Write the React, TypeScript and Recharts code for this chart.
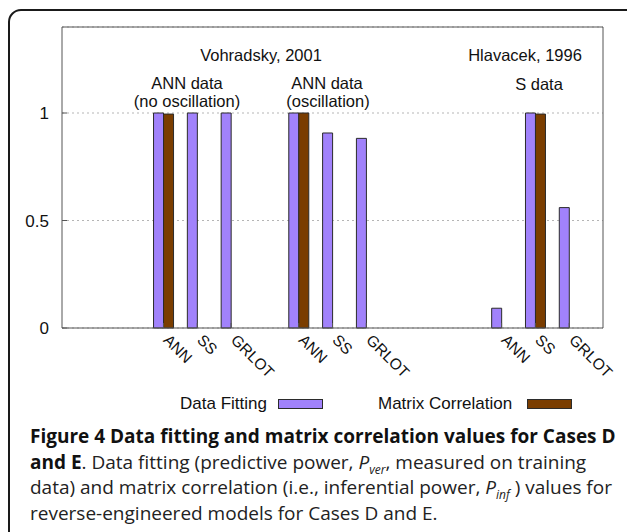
import React from "react";
import { BarChart, Bar, XAxis, YAxis, CartesianGrid } from "recharts";

// slots on a 0..16 axis, the empty ones keep the three data sets apart
const slots = [3, 4, 5, 7, 8, 9, 13, 14, 15];
const methods = ["ANN", "SS", "GRLOT", "ANN", "SS", "GRLOT", "ANN", "SS", "GRLOT"];
const dataFitting = [1, 1, 1, 1, 0.907, 0.882, 0.092, 1, 0.56];
const matrixCorrelation = [0.995, null, null, 1, null, null, null, 0.995, null];
const yTicks = [0, 0.5, 1];

const series = [
  { key: "fit", name: "Data Fitting", color: "#a182fb" },
  { key: "corr", name: "Matrix Correlation", color: "#7a3d00" },
];

const data = slots.map((slot, i) => ({
  slot,
  fit: dataFitting[i],
  corr: matrixCorrelation[i],
}));

const sans = "'Liberation Sans', Arial, sans-serif";

function MethodTick({ x, y, payload }: any) {
  const label = methods[slots.indexOf(payload.value)];
  return (
    <text
      x={x - 1}
      y={y}
      transform={`rotate(45 ${x - 1} ${y})`}
      textAnchor="start"
      fontSize={15.5}
      fontFamily={sans}
      fill="#111"
    >
      {label}
    </text>
  );
}

const subStyle: React.CSSProperties = {
  fontSize: 12,
  fontStyle: "italic",
  position: "relative",
  top: 5,
  lineHeight: 0,
};

const lineStyle: React.CSSProperties = { height: 25.5, overflow: "visible" };

export default function App() {
  return (
    <div
      style={{
        position: "fixed",
        left: 0,
        top: 0,
        width: 627,
        height: 532,
        overflow: "hidden",
        background: "#fff",
      }}
    >
      {/* the page frame, runs off the right and bottom edge */}
      <div
        style={{
          position: "absolute",
          left: 8,
          top: 9,
          width: 660,
          height: 600,
          border: "2px solid #1a1a1a",
          borderRadius: 13,
          boxSizing: "border-box",
        }}
      />

      <div style={{ position: "absolute", left: 0, top: 0 }}>
        <BarChart
          width={627}
          height={400}
          data={data}
          margin={{ top: 26, right: 23, bottom: 12, left: 0 }}
          barSize={10}
          barGap={0}
        >
          <CartesianGrid
            vertical={false}
            stroke="#b5b5b5"
            strokeDasharray="2 3"
          />
          <XAxis
            dataKey="slot"
            type="number"
            domain={[0, 16]}
            ticks={slots}
            height={60}
            tickSize={-5}
            tickMargin={18}
            tick={<MethodTick />}
            stroke="#555"
            interval={0}
          />
          <XAxis
            xAxisId="top"
            orientation="top"
            dataKey="slot"
            type="number"
            domain={[0, 16]}
            ticks={slots}
            height={1}
            tickSize={-5}
            tick={false}
            stroke="#555"
            interval={0}
          />
          <YAxis
            domain={[0, 1.4]}
            ticks={yTicks}
            width={62}
            tickSize={-5}
            tickMargin={18}
            stroke="#555"
            tick={{ fontSize: 17, fill: "#111", fontFamily: sans }}
          />
          <YAxis
            yAxisId="right"
            orientation="right"
            domain={[0, 1.4]}
            ticks={[0.5, 1]}
            width={1}
            tickSize={-5}
            tick={false}
            stroke="#555"
          />
          {series.map((s) => (
            <Bar
              key={s.key}
              dataKey={s.key}
              name={s.name}
              fill={s.color}
              stroke="#2b2b2b"
              strokeWidth={1}
              isAnimationActive={false}
            />
          ))}
        </BarChart>
      </div>

      {/* data set annotations */}
      <svg
        width={627}
        height={120}
        style={{ position: "absolute", left: 0, top: 0 }}
        fontFamily={sans}
        fontSize={16.5}
        fill="#111"
        textAnchor="middle"
      >
        <text x={261} y={55} dominantBaseline="central">Vohradsky, 2001</text>
        <text x={525} y={55} dominantBaseline="central">Hlavacek, 1996</text>
        <text x={187} y={83} dominantBaseline="central">ANN data</text>
        <text x={187} y={101} dominantBaseline="central">(no oscillation)</text>
        <text x={327} y={83} dominantBaseline="central">ANN data</text>
        <text x={328} y={101} dominantBaseline="central">(oscillation)</text>
        <text x={539} y={84} dominantBaseline="central">S data</text>
      </svg>

      {/* legend */}
      {series.map((s, i) => (
        <div
          key={s.key}
          style={{
            position: "absolute",
            top: 394,
            left: i === 0 ? 180 : 378,
            display: "flex",
            alignItems: "center",
            fontFamily: sans,
            fontSize: 17,
            color: "#111",
            lineHeight: "20px",
            whiteSpace: "nowrap",
          }}
        >
          <span>{s.name}</span>
          <span
            style={{
              display: "inline-block",
              width: 45,
              height: 10,
              marginLeft: i === 0 ? 11 : 15,
              background: s.color,
              border: "1px solid #2b2b2b",
              boxSizing: "border-box",
            }}
          />
        </div>
      ))}

      {/* caption */}
      <div
        style={{
          position: "absolute",
          left: 30,
          top: 424,
          fontFamily: "'Open Sans', sans-serif",
          fontSize: 19,
          lineHeight: "25.5px",
          color: "#222",
          whiteSpace: "nowrap",
        }}
      >
        <div style={{ ...lineStyle, fontWeight: 700, color: "#111" }}>
          Figure 4 Data fitting and matrix correlation values for Cases D
        </div>
        <div style={lineStyle}>
          <b style={{ color: "#111" }}>and E</b>. Data fitting (predictive power,{" "}
          <i>P</i>
          <span style={subStyle}>ver</span>, measured on training
        </div>
        <div style={lineStyle}>
          data) and matrix correlation (i.e., inferential power, <i>P</i>
          <span style={subStyle}>inf</span> ) values for
        </div>
        <div style={lineStyle}>reverse-engineered models for Cases D and E.</div>
      </div>
    </div>
  );
}
